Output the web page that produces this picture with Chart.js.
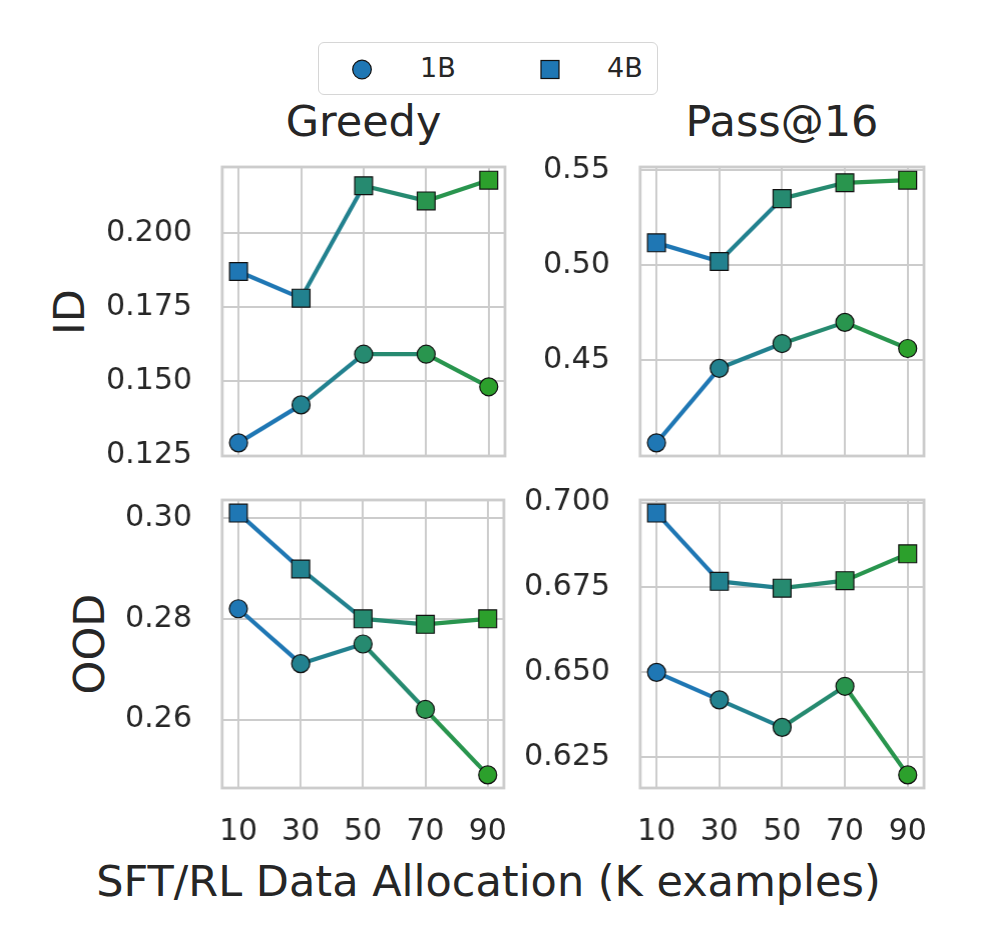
<!DOCTYPE html>
<html>
<head>
<meta charset="utf-8">
<script src="https://cdn.jsdelivr.net/npm/chart.js@4.4.0/dist/chart.umd.min.js"></script>
<style>
  body { margin: 0; background: #fff; width: 1000px; height: 944px; position: relative; overflow: hidden;
         font-family: 'DejaVu Sans', sans-serif; color: #262626; }
  canvas { position: absolute; }
  .txt { position: absolute; white-space: nowrap; line-height: 1; }
  .legend { position: absolute; left: 318px; top: 42px; width: 340px; height: 53px; box-sizing: border-box;
            border: 1.5px solid #d6d6d6; border-radius: 6px; }
</style>
</head>
<body>

<div class="legend"></div>
<svg style="position:absolute;left:0;top:0" width="1000" height="120">
  <circle cx="362" cy="69.5" r="9.3" fill="#1f77b4" stroke="#111" stroke-width="1.2"/>
  <rect x="541" y="60.5" width="18" height="18" fill="#1f77b4" stroke="#111" stroke-width="1.2"/>
</svg>
<div class="txt" style="left:420px;top:54px;font-size:27px">1B</div>
<div class="txt" style="left:607px;top:54px;font-size:27px">4B</div>

<div class="txt" style="left:363.5px;top:100px;font-size:43px;transform:translateX(-50%)">Greedy</div>
<div class="txt" style="left:782px;top:100px;font-size:43px;transform:translateX(-50%)">Pass@16</div>

<div class="txt" style="left:69px;top:311.5px;font-size:43px;transform:translate(-50%,-50%) rotate(-90deg)">ID</div>
<div class="txt" style="left:89px;top:644px;font-size:43px;transform:translate(-50%,-50%) rotate(-90deg)">OOD</div>

<div class="txt" style="left:488.5px;top:859.5px;font-size:43px;transform:translateX(-50%)">SFT/RL Data Allocation (K examples)</div>

<canvas id="idGreedy"></canvas>
<canvas id="idPass"></canvas>
<canvas id="oodGreedy"></canvas>
<canvas id="oodPass"></canvas>

<script>
// x positions (K examples) and tick values
const allocations = [10, 30, 50, 70, 90];
const xTicks = [10, 30, 50, 70, 90];

// ID / Greedy
const idGreedy1B = [0.1293, 0.1421, 0.1592, 0.1592, 0.1482];
const idGreedy4B = [0.1871, 0.1781, 0.2160, 0.2109, 0.2179];
const idGreedyTicks = [0.125, 0.150, 0.175, 0.200];

// ID / Pass@16
const idPass1B = [0.4068, 0.4459, 0.4589, 0.4700, 0.4563];
const idPass4B = [0.5117, 0.5019, 0.5349, 0.5432, 0.5446];
const idPassTicks = [0.45, 0.50, 0.55];

// OOD / Greedy
const oodGreedy1B = [0.2820, 0.2711, 0.2750, 0.2620, 0.2490];
const oodGreedy4B = [0.3010, 0.2899, 0.2800, 0.2789, 0.2800];
const oodGreedyTicks = [0.26, 0.28, 0.30];

// OOD / Pass@16
const oodPass1B = [0.6500, 0.6419, 0.6338, 0.6459, 0.6198];
const oodPass4B = [0.6969, 0.6768, 0.6748, 0.6770, 0.6849];
const oodPassTicks = [0.625, 0.650, 0.675, 0.700];

// blue -> green colour per step
const stepColors = ['#1f77b4', '#22818f', '#268a70', '#29954e', '#2ca02c'];

const TEXT = '#262626';
const GRID = '#cccccc';

const framePlugin = {
  id: 'frame',
  afterDatasetsDraw(chart) {
    const { ctx, chartArea: { left, top, width, height } } = chart;
    ctx.save();
    ctx.strokeStyle = GRID;
    ctx.lineWidth = 2.8;
    ctx.strokeRect(left, top, width, height);
    ctx.restore();
  }
};

function series(values, style, radius) {
  return {
    data: allocations.map((x, i) => ({ x, y: values[i] })),
    borderWidth: 4.2,
    borderColor: stepColors[0],
    segment: { borderColor: ctx => stepColors[ctx.p0DataIndex] },
    pointStyle: style,
    pointRadius: radius,
    pointHoverRadius: radius,
    pointBackgroundColor: stepColors,
    pointBorderColor: '#111',
    pointBorderWidth: 1.2,
    clip: false
  };
}

function panelConfig(a1B, a4B, yTicks, decimals, bottomRow) {
  const all = a1B.concat(a4B);
  const lo = Math.min(...all), hi = Math.max(...all);
  const margin = (hi - lo) * 0.05;
  return {
    type: 'line',
    data: {
      datasets: [
        series(a1B, 'circle', 9),
        series(a4B, 'rect', 12.6)
      ]
    },
    options: {
      responsive: false,
      maintainAspectRatio: false,
      animation: false,
      layout: { padding: 20 },
      plugins: { legend: { display: false }, tooltip: { enabled: false } },
      scales: {
        x: {
          type: 'linear',
          min: 4.8,
          max: 95.2,
          afterBuildTicks: axis => { axis.ticks = xTicks.map(v => ({ value: v })); },
          grid: { color: GRID, lineWidth: 2, drawTicks: false },
          border: { display: false },
          ticks: {
            display: bottomRow,
            padding: 26,
            color: TEXT,
            font: { family: 'DejaVu Sans', size: 30 },
            maxRotation: 0
          }
        },
        y: {
          min: lo - margin,
          max: hi + margin,
          afterBuildTicks: axis => { axis.ticks = yTicks.map(v => ({ value: v })); },
          grid: { color: GRID, lineWidth: 2, drawTicks: false },
          border: { display: false },
          ticks: {
            padding: 30,
            color: TEXT,
            font: { family: 'DejaVu Sans', size: 30 },
            callback: v => v.toFixed(decimals)
          }
        }
      }
    },
    plugins: [framePlugin]
  };
}

// build once, measure the plot area, then rebuild at the size that gives the wanted plot area
function makePanel(id, area, a1B, a4B, yTicks, decimals, bottomRow) {
  const canvas = document.getElementById(id);
  const w = area.right - area.left, h = area.bottom - area.top;
  canvas.width = w + 200;
  canvas.height = h + 120;
  let chart = new Chart(canvas, panelConfig(a1B, a4B, yTicks, decimals, bottomRow));
  const ca = chart.chartArea;
  const W = canvas.width + (w - (ca.right - ca.left));
  const H = canvas.height + (h - (ca.bottom - ca.top));
  chart.destroy();
  canvas.width = W;
  canvas.height = H;
  canvas.style.width = W + 'px';
  canvas.style.height = H + 'px';
  chart = new Chart(canvas, panelConfig(a1B, a4B, yTicks, decimals, bottomRow));
  canvas.style.left = (area.left - chart.chartArea.left) + 'px';
  canvas.style.top = (area.top - chart.chartArea.top) + 'px';
}

makePanel('idGreedy', { left: 222, right: 505, top: 167, bottom: 456 }, idGreedy1B, idGreedy4B, idGreedyTicks, 3, false);
makePanel('idPass', { left: 640, right: 924, top: 167, bottom: 456 }, idPass1B, idPass4B, idPassTicks, 2, false);
makePanel('oodGreedy', { left: 222, right: 505, top: 500, bottom: 788 }, oodGreedy1B, oodGreedy4B, oodGreedyTicks, 2, true);
makePanel('oodPass', { left: 640, right: 924, top: 500, bottom: 788 }, oodPass1B, oodPass4B, oodPassTicks, 3, true);
</script>
</body>
</html>
